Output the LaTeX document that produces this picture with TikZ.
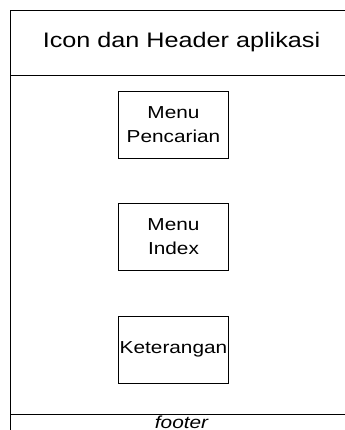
\documentclass[tikz,border=0pt]{standalone}
\usepackage{fontspec}
\setmainfont{Liberation Sans}[FakeStretch=1.2]
\usepackage{tikz}
\usetikzlibrary{positioning}
\tikzset{
	node distance = 33.75pt,
	line width = .75pt,
	menu/.style={
		draw,
		rectangle,
		align=center,
		minimum width=82.5pt,
		minimum height=50.25pt,
		inner sep=0pt,
		font=\fontsize{13}{18}\selectfont
	},
	frame/.style={
		line width=.75pt
	}
}
\begin{document}
\begin{tikzpicture}[x=0.75pt,y=-0.75pt]
        \useasboundingbox (0,0) rectangle (345,430);
        \draw[frame] (11,430) -- (11,10) -- (345,10);
        \draw[frame] (11,75) -- (345,75);
        \draw[frame] (11,414) -- (345,414);
        \node[font=\fontsize{15.75}{19}\selectfont] (header) at (181.5,42.5) {Icon dan Header aplikasi};
        \node[menu] (cari) at (173.5,124.5) {Menu\\Pencarian};
        \node[menu,below=of cari] (index) {Menu\\Index};
        \node[menu,below=of index] (ket) {Keterangan};
        \node[font=\fontsize{13}{15}\selectfont\itshape,anchor=base] (footer) at (181.5,428) {footer};
    \end{tikzpicture}
\end{document}
